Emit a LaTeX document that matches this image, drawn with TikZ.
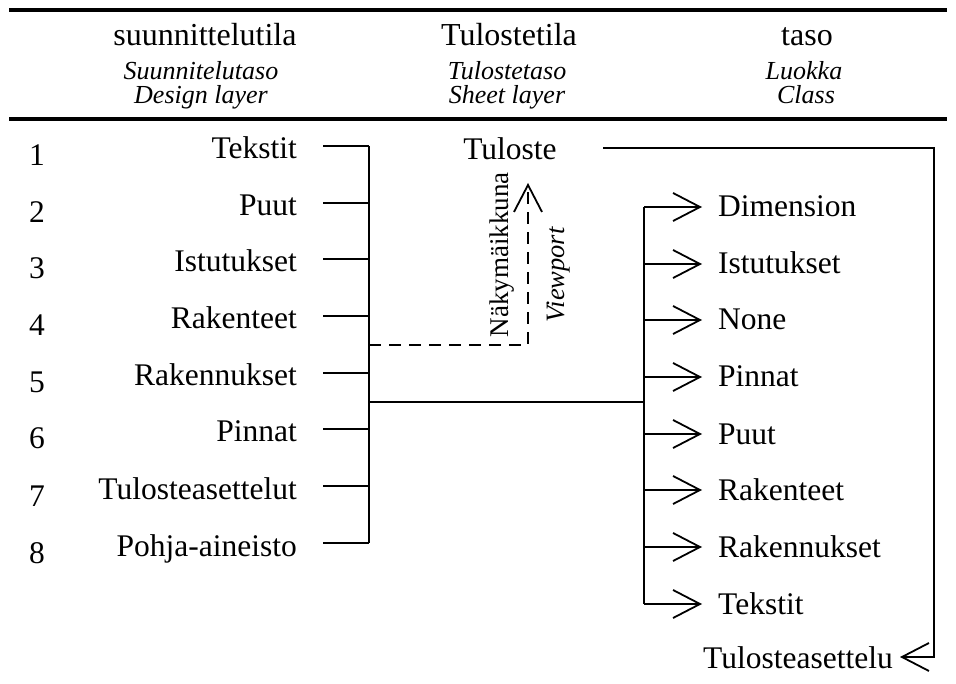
\documentclass[tikz,border=0pt]{standalone}
\usepackage{fontspec}
\setmainfont{Liberation Serif}
\usetikzlibrary{arrows.meta}
\begin{document}
\begin{tikzpicture}[x=1pt,y=-1pt,
  lbl/.style={inner sep=0pt, font=\fontsize{31.5}{36}\selectfont},
  head/.style={inner sep=0pt, font=\fontsize{32}{38}\selectfont, anchor=base},
  sub/.style={inner sep=0pt, font=\fontsize{26}{30}\selectfont\itshape, anchor=base},
  vlbl/.style={inner sep=0pt, font=\fontsize{27}{30}\selectfont, rotate=90, anchor=base},
  rulebar/.style={line width=4pt},
  wire/.style={line width=1.7pt},
  barb/.style={-{Straight Barb[length=27pt,width=28pt,line width=1.8pt]}},
  ]
\useasboundingbox (0,0) rectangle (956,684);

% table head
\draw[rulebar] (9,10) -- (947,10);
\draw[rulebar] (9,119) -- (947,119);
\node[head] (h1) at (205,46) {suunnittelutila};
\node[sub]  (s1) at (201,80) {Suunnitelutaso};
\node[sub]  (d1) at (201,104) {Design layer};
\node[head] (h2) at (509,46) {Tulostetila};
\node[sub]  (s2) at (507,80) {Tulostetaso};
\node[sub]  (d2) at (507,104) {Sheet layer};
\node[head] (h3) at (807,46) {taso};
\node[sub]  (s3) at (804,80) {Luokka};
\node[sub]  (d3) at (806,104) {Class};

% design layers, numbered, joined by a bracket
\foreach \i/\t in {1/Tekstit,2/Puut,3/Istutukset,4/Rakenteet,5/Rakennukset,6/Pinnat,7/Tulosteasettelut,8/Pohja-aineisto}{
  \pgfmathsetmacro\ty{round(146+56.7*(\i-1))}
  \node[lbl, anchor=base] (n\i) at (37,\ty+20) {\i};
  \node[lbl, anchor=base east] (L\i) at (297,\ty+13) {\t};
  \coordinate (t\i) at (323,\ty);
  \coordinate (b\i) at (369,\ty);
  \draw[wire] (t\i) -- (b\i);
}
\draw[wire] (b1) -- (b8);

% classes, fed from a second bracket
\foreach \i/\t in {1/Dimension,2/Istutukset,3/None,4/Pinnat,5/Puut,6/Rakenteet,7/Rakennukset,8/Tekstit}{
  \pgfmathsetmacro\ry{round(207+56.7*(\i-1))}
  \coordinate (r\i) at (644,\ry);
  \coordinate (p\i) at (702,\ry);
  \node[lbl, anchor=base west] (R\i) at (718,\ry+10) {\t};
  \draw[wire,barb] (r\i) -- (p\i);
}
\draw[wire] (r1) -- (r8);

% link between the two brackets
\coordinate (jl) at (369,402);
\coordinate (jr) at (644,402);
\draw[wire] (jl) -- (jr);

% sheet layer and its layout
\node[lbl, anchor=base] (T) at (510,160) {Tuloste};
\coordinate (ts) at (603,148);
\coordinate (c1) at (934,148);
\coordinate (c2) at (934,657);
\coordinate (ta) at (900,657);
\node[lbl, anchor=base east] (TA) at (893,668) {Tulosteasettelu};
\draw[wire,barb] (ts) -- (c1) -- (c2) -- (ta);

% viewport
\coordinate (dv) at (369,345);
\coordinate (dc) at (528,345);
\coordinate (dt) at (528,183);
\draw[wire,barb,dash pattern=on 12pt off 8pt] (dv) -- (dc) -- (dt);
\node[vlbl] (nk) at (508,255) {Näkymäikkuna};
\node[vlbl, font=\fontsize{26.5}{30}\selectfont\itshape] (vp) at (564,275) {Viewport};
\end{tikzpicture}
\end{document}
